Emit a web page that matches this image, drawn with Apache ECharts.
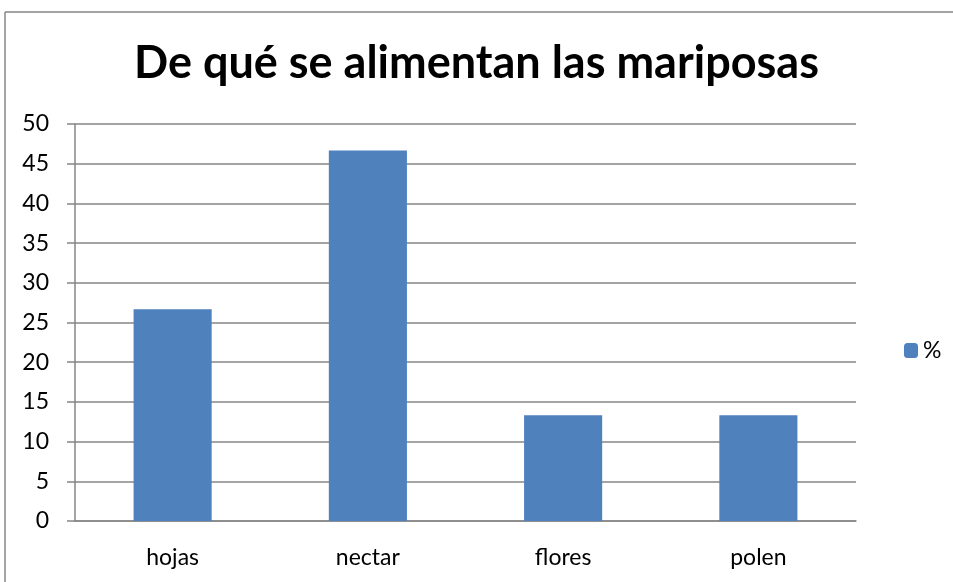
<!DOCTYPE html>
<html>
<head>
<meta charset="utf-8">
<script src="https://cdn.jsdelivr.net/npm/echarts@6/dist/echarts.min.js"></script>
<style>html,body{margin:0;padding:0;background:#fff;overflow:hidden}#c{width:953px;height:582px}</style>
</head>
<body>
<div id="c"></div>
<script>
const titleText = 'De qué se alimentan las mariposas';
const categories = ['hojas', 'nectar', 'flores', 'polen'];
const seriesName = '%';
const values = [26.67, 46.67, 13.33, 13.33];

const chart = echarts.init(document.getElementById('c'));
const FONT = 'Lato, "Open Sans", sans-serif';
chart.setOption({
  animation: false,
  backgroundColor: '#fff',
  title: {
    text: titleText,
    left: 'center',
    top: 41,
    padding: [0, 0, 0, 17],
    textStyle: { fontFamily: FONT, fontWeight: 'bold', fontSize: 45, color: '#000' }
  },
  legend: {
    left: 899,
    top: 334,
    itemWidth: 14,
    itemHeight: 15,
    itemGap: 5,
    textStyle: { fontFamily: FONT, fontSize: 23, color: '#000' },
    data: [seriesName]
  },
  grid: { left: 75, right: 97, top: 124, bottom: 61, containLabel: false },
  xAxis: {
    type: 'category',
    data: categories,
    axisLine: { lineStyle: { color: '#868686', width: 1.5 } },
    axisTick: { length: 8, lineStyle: { color: '#868686', width: 1.5 } },
    axisLabel: { margin: 25, fontFamily: FONT, fontSize: 23, color: '#000' }
  },
  yAxis: {
    type: 'value',
    min: 0, max: 50, interval: 5,
    axisLine: { show: true, lineStyle: { color: '#868686', width: 1.5 } },
    axisTick: { show: true, length: 8, lineStyle: { color: '#868686', width: 1.5 } },
    splitLine: { lineStyle: { color: '#868686', width: 1.5 } },
    axisLabel: { margin: 26, fontFamily: FONT, fontSize: 23, color: '#000' }
  },
  series: [{
    name: seriesName,
    type: 'bar',
    data: values,
    barWidth: '40%',
    itemStyle: { color: '#4F81BD' }
  }],
  graphic: [
    { type: 'line', shape: { x1: 5, y1: 12, x2: 953, y2: 12 }, style: { stroke: '#868686', lineWidth: 1.5 }, silent: true },
    { type: 'line', shape: { x1: 5, y1: 12, x2: 5, y2: 582 }, style: { stroke: '#868686', lineWidth: 1.5 }, silent: true }
  ]
});
</script>
</body>
</html>
